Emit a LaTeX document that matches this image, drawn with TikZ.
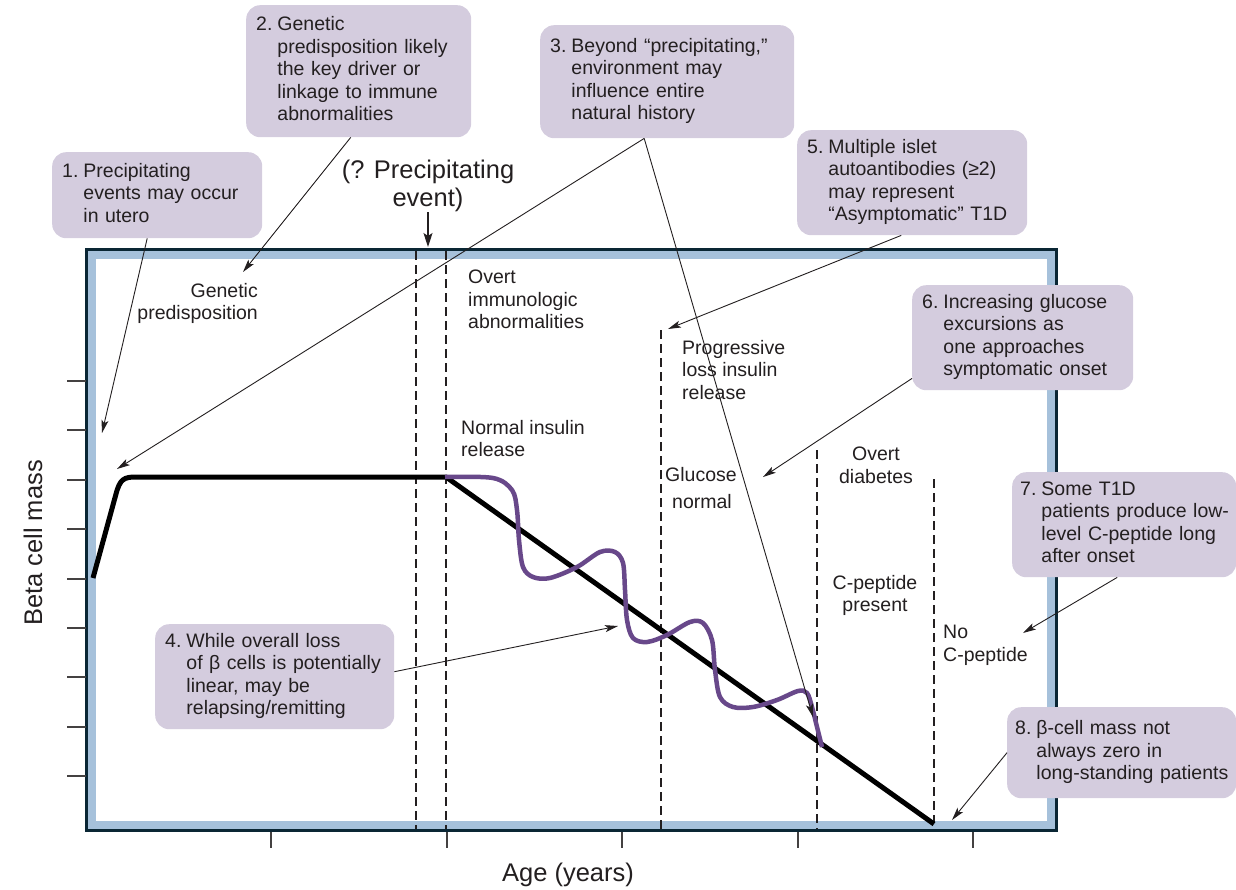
\documentclass[tikz,border=0pt]{standalone}
\usepackage{fontspec}
\setmainfont{Liberation Sans}
\usetikzlibrary{arrows.meta}
\definecolor{notefill}{RGB}{212,204,222}
\definecolor{curvepurple}{RGB}{104,72,138}
\definecolor{bandblue}{RGB}{166,193,219}
\definecolor{framedark}{RGB}{10,38,52}
\definecolor{inkdark}{RGB}{35,31,32}
\newcommand{\calloutfont}{\fontsize{19.5}{22.5}\selectfont}
\newcommand{\axisfont}{\fontsize{25.5}{28}\selectfont}
\newcommand{\numbered}[2]{\begin{tabular}{@{}l@{\hspace{5pt}}l@{}}#1.&#2\end{tabular}}

\begin{document}
\begin{tikzpicture}[x=1pt,y=-1pt,
  note/.style={fill=notefill,rounded corners=14pt,anchor=north west,inner xsep=10pt,inner ysep=0pt,align=left,text=inkdark,font=\calloutfont},
  lbl/.style={inner sep=0pt,text=inkdark,font=\calloutfont},
  axlbl/.style={inner sep=0pt,text=inkdark,font=\axisfont},
  tick/.style={line width=2pt,draw=inkdark!85},
  phase/.style={dash pattern=on 9pt off 5pt,line width=1.3pt,draw=inkdark},
  pointer/.style={-{Stealth[length=13pt,width=7pt,inset=3pt]},line width=0.9pt,color=inkdark}]
\useasboundingbox (0,0) rectangle (1236,889);

\fill[framedark] (85,248) rectangle (1058,832);
\fill[bandblue] (88,251) rectangle (1055,829);
\fill[white] (96,259) rectangle (1047,821);
\foreach \i in {0,...,8}
  \draw[tick] (67,{381+49.4*\i}) -- (86,{381+49.4*\i});
\foreach \i in {0,...,4}
  \draw[tick] ({271+175.5*\i},832) -- ({271+175.5*\i},848);

\draw[phase] (416,251) -- (416,829);
\draw[phase] (446,251) -- (446,829);
\draw[phase] (661,330) -- (661,829);
\draw[phase] (817,450) -- (817,829);
\draw[phase] (934,479) -- (934,823);

\draw[line width=5pt,black] (93,578) -- (116,494) .. controls (120,479) and (124,477) .. (136,477) -- (446,477) -- (934,824);
\draw[line width=4.5pt,curvepurple] plot[smooth,tension=0.55] coordinates {
  (445,477) (493,478) (512,490) (517,510) (519,540) (523,567) (533,577) (550,578)
  (577,567) (600,552) (615,552) (623,563) (625,590) (627,620) (633,638) (647,642)
  (667,635) (690,622) (703,623) (712,640) (715,670) (720,697) (733,707) (753,707)
  (777,700) (798,691) (807,693) (812,707) (817,727) (822,747)};

\node[note,text width=190pt,minimum height=86pt] (b1) at (52,152)
  {\numbered{1}{Precipitating\\&events may occur\\&in utero}};
\node[note,text width=205pt,minimum height=132pt] (b2) at (246,5)
  {\numbered{2}{Genetic\\&predisposition likely\\&the key driver or\\&linkage to immune\\&abnormalities}};
\node[note,text width=234pt,minimum height=113pt] (b3) at (540,25)
  {\numbered{3}{Beyond “precipitating,”\\&environment may\\&influence entire\\&natural history}};
\node[note,text width=219pt,minimum height=105pt] (b4) at (155,624)
  {\numbered{4}{While overall loss\\&of β cells is potentially\\&linear, may be\\&relapsing/remitting}};
\node[note,text width=210pt,minimum height=105pt] (b5) at (797,130)
  {\numbered{5}{Multiple islet\\&autoantibodies (≥2)\\&may represent\\&“Asymptomatic” T1D}};
\node[note,text width=201pt,minimum height=105pt] (b6) at (912,285)
  {\numbered{6}{Increasing glucose\\&excursions as\\&one approaches\\&symptomatic onset}};
\node[note,inner xsep=8pt,text width=208pt,minimum height=105pt] (b7) at (1012,472)
  {\numbered{7}{Some T1D\\&patients produce low-\\&level C-peptide long\\&after onset}};
\node[note,inner xsep=8pt,text width=213pt,minimum height=91pt] (b8) at (1007,707)
  {\numbered{8}{β-cell mass not\\&always zero in\\&long-standing patients}};

\node[lbl,anchor=north east,align=right] (gen) at (258,283) {Genetic\\predisposition};
\node[lbl,anchor=north west,align=left] (imm) at (468,270) {Overt\\immunologic\\abnormalities};
\node[lbl,anchor=north west,align=left] (nir) at (461,420) {Normal insulin\\release};
\node[lbl,anchor=north west,align=left] (prog) at (682,340) {Progressive\\loss insulin\\release};
\node[lbl,anchor=north west,align=left] (glu) at (665,467) {Glucose\\[5pt]\hspace*{7pt}normal};
\node[lbl,anchor=north,align=center] (ovd) at (876,447) {Overt\\diabetes};
\node[lbl,anchor=north,align=center] (cpp) at (875,575) {C-peptide\\present};
\node[lbl,anchor=north west,align=left] (nocp) at (943,625) {No\\C-peptide};
\node[axlbl,anchor=north,align=center] (pe) at (428,160) {(? Precipitating\\event)};
\node[axlbl,rotate=90] (ylab) at (33,543) {Beta cell mass};
\node[axlbl] (xlab) at (568,875) {Age (years)};

\coordinate (evt) at (428,247);
\coordinate (t1) at (102,433);
\coordinate (t2) at (243,272);
\coordinate (t3a) at (117,469);
\coordinate (t3b) at (813,717);
\coordinate (t4) at (618,626);
\coordinate (t5) at (668,329);
\coordinate (t6) at (763,477);
\coordinate (t7) at (1023,633);
\coordinate (t8) at (952,820);

\draw[-{Stealth[length=14pt,width=9pt,inset=3pt]},line width=1.3pt,draw=inkdark] (pe.south) -- (evt);
\path[pointer]
  (b1)                          edge (t1)
  ([xshift=-8pt]b2.south)       edge (t2)
  ([xshift=-23pt]b3.south)      edge (t3a)
  ([xshift=-23pt]b3.south)      edge (t3b)
  ([yshift=5pt]b4.east)         edge (t4)
  ([xshift=-11pt]b5.south)      edge (t5)
  ([yshift=12pt]b6.south west)  edge (t6)
  ([xshift=-7pt]b7.south)       edge (t7)
  (b8.west)                     edge (t8);
\end{tikzpicture}
\end{document}
